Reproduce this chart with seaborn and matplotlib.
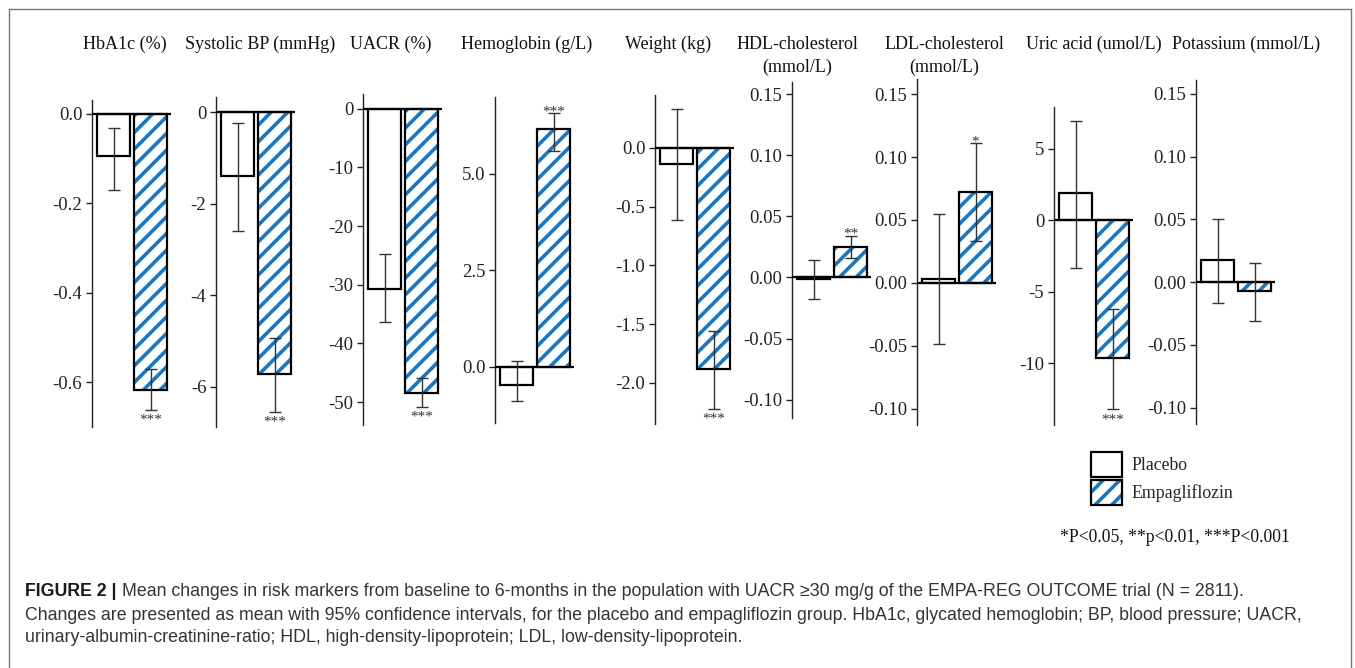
import numpy as np
import pandas as pd
import matplotlib
matplotlib.use('Agg')
import matplotlib.pyplot as plt
from matplotlib.patches import Patch, Rectangle
from matplotlib.lines import Line2D
import seaborn as sns

# data: mean change and 95% CI per marker
titles = ['HbA1c (%)', 'Systolic BP (mmHg)', 'UACR (%)', 'Hemoglobin (g/L)', 'Weight (kg)',
          'HDL-cholesterol\n(mmol/L)', 'LDL-cholesterol\n(mmol/L)', 'Uric acid (umol/L)', 'Potassium (mmol/L)']
groups = ['Placebo', 'Empagliflozin']
placebo = [-0.095, -1.40, -30.7, -0.47, -0.136, -0.001, 0.003, 1.9, 0.0175]
placebo_lo = [-0.171, -2.60, -36.3, -0.88, -0.61, -0.018, -0.049, -3.35, -0.017]
placebo_hi = [-0.031, -0.24, -24.7, 0.16, 0.33, 0.014, 0.055, 6.9, 0.050]
empa = [-0.618, -5.72, -48.5, 6.15, -1.88, 0.025, 0.072, -9.6, -0.007]
empa_lo = [-0.662, -6.55, -50.8, 5.58, -2.22, 0.016, 0.033, -13.2, -0.031]
empa_hi = [-0.571, -4.94, -45.9, 6.56, -1.56, 0.034, 0.111, -6.2, 0.015]
stars = ['***', '***', '***', '***', '***', '**', '*', '***', '']
yticks = [[0.0, -0.2, -0.4, -0.6], [0, -2, -4, -6], [0, -10, -20, -30, -40, -50],
          [0.0, 2.5, 5.0], [0.0, -0.5, -1.0, -1.5, -2.0],
          [0.15, 0.10, 0.05, 0.00, -0.05, -0.10], [0.15, 0.10, 0.05, 0.00, -0.05, -0.10],
          [5, 0, -5, -10], [0.15, 0.10, 0.05, 0.00, -0.05, -0.10]]
tick_fmt = ['%.1f', '%d', '%d', '%.1f', '%.1f', '%.2f', '%.2f', '%d', '%.2f']

# layout (pixels)
W, H = 1355, 668
spine_x = [92, 216, 363, 495, 655, 792, 917, 1054, 1196]
ax_top = [100, 97, 94, 97, 95, 82, 79, 107, 80]
ax_bot = [427, 427, 425, 423, 424, 418, 425, 425, 424]
ylims = [(-0.70, 0.031), (-6.88, 0.33), (-53.9, 2.5), (-1.45, 6.98), (-2.35, 0.45),
         (-0.115, 0.16), (-0.113, 0.162), (-14.3, 7.9), (-0.113, 0.161)]
title_x = [125, 260, 391, 527, 668, 797, 944, 1094, 1246]
blue = '#1a78c2'

sns.set_style('white')
plt.rcParams['font.family'] = ['Liberation Serif', 'DejaVu Serif']
plt.rcParams['hatch.linewidth'] = 2.6
plt.rcParams['axes.linewidth'] = 1.0

fig = plt.figure(figsize=(W / 100, H / 100), dpi=100)


def rect(x0, y0, x1, y1):
    return [x0 / W, 1 - y1 / H, (x1 - x0) / W, (y1 - y0) / H]


for i in range(9):
    ax = fig.add_axes(rect(spine_x[i], ax_top[i], spine_x[i] + 79, ax_bot[i]))
    df = pd.DataFrame({'group': groups, 'value': [placebo[i], empa[i]]})
    sns.barplot(data=df, x='group', y='value', hue='group', order=groups, hue_order=groups,
                palette={'Placebo': 'white', 'Empagliflozin': 'white'}, edgecolor='black',
                linewidth=1.6, width=0.9, errorbar=None, legend=False, ax=ax)
    for p in ax.patches:
        if p.get_x() + p.get_width() / 2 > 0.5:
            p.set_edgecolor(blue)
            p.set_hatch('//')
            p.set_linewidth(0)
            ax.add_patch(Rectangle(p.get_xy(), p.get_width(), p.get_height(), fill=False,
                                   edgecolor='black', linewidth=1.6, zorder=p.get_zorder() + 0.1))
    lo = np.array([placebo_lo[i], empa_lo[i]])
    hi = np.array([placebo_hi[i], empa_hi[i]])
    mid = np.array([placebo[i], empa[i]])
    ax.errorbar([0, 1], mid, yerr=[mid - lo, hi - mid], fmt='none', ecolor='#333333',
                elinewidth=1.0, capsize=4.5, capthick=1.0, zorder=5)
    ax.axhline(0, color='black', lw=1.6, zorder=4)
    if stars[i]:
        if empa[i] > 0:
            ax.annotate(stars[i], (1, empa_hi[i]), xytext=(0, -1.5), textcoords='offset points',
                        ha='center', va='baseline', fontsize=11, color='#333333')
        else:
            ax.annotate(stars[i], (1, empa_lo[i]), xytext=(0, -10), textcoords='offset points',
                        ha='center', va='baseline', fontsize=11, color='#333333')
    ax.set_xlim(-0.6, 1.56)
    ax.set_ylim(*ylims[i])
    ax.set_yticks(yticks[i])
    ax.set_yticklabels([tick_fmt[i] % t for t in yticks[i]])
    ax.tick_params(axis='y', left=True, length=4, width=1, pad=3, labelsize=13.5, colors='#222222')
    ax.set_xticks([])
    ax.set_xlabel('')
    ax.set_ylabel('')
    sns.despine(ax=ax, bottom=True)
    ax.spines['left'].set_color('#222222')
    fig.text(title_x[i] / W, 1 - 36 / H, titles[i], ha='center', va='top', fontsize=13,
             linespacing=1.4, color='#111111')

# legend
h_plac = Patch(facecolor='white', edgecolor='black', linewidth=1.6)
h_empa = (Patch(facecolor='white', edgecolor=blue, hatch='//', linewidth=0),
          Patch(facecolor='none', edgecolor='black', linewidth=1.6))
fig.legend([h_plac, h_empa], groups, loc='upper left', bbox_to_anchor=(1091 / W, 1 - 452 / H),
           frameon=False, fontsize=12.8, handlelength=1.75, handleheight=1.75,
           handletextpad=0.5, labelspacing=0.2, borderpad=0, borderaxespad=0)
fig.text(1060 / W, 1 - 537 / H, '*P<0.05, **p<0.01, ***P<0.001', ha='left', va='center',
         fontsize=12.7, color='#111111')

# frame around the figure panel
for xs, ys in [((9, 1351), (9, 9)), ((9, 9), (9, 668)), ((1351, 1351), (9, 668))]:
    fig.add_artist(Line2D([x / W for x in xs], [1 - y / H for y in ys], color='#777777', lw=1))

# caption
cap_font = ['Liberation Sans', 'DejaVu Sans']
cap_lines = ['Mean changes in risk markers from baseline to 6-months in the population with UACR \u226530 mg/g of the EMPA-REG OUTCOME trial (N = 2811).',
             'Changes are presented as mean with 95% confidence intervals, for the placebo and empagliflozin group. HbA1c, glycated hemoglobin; BP, blood pressure; UACR,',
             'urinary-albumin-creatinine-ratio; HDL, high-density-lipoprotein; LDL, low-density-lipoprotein.']
t0 = fig.text(25 / W, 1 - 592 / H, 'FIGURE 2 |', family=cap_font, fontweight='bold',
              fontsize=12.8, va='center', color='#1a1a1a')
plt.annotate(cap_lines[0], xy=(1, 0), xycoords=t0, xytext=(4, 0), textcoords='offset points',
             family=cap_font, fontsize=12.8, va='bottom', color='#333333')
for k, line in enumerate(cap_lines[1:]):
    fig.text(25 / W, 1 - (615 + 23 * k) / H, line, family=cap_font, fontsize=12.8, va='center',
             color='#333333')

fig.savefig('out.png', dpi=100)
